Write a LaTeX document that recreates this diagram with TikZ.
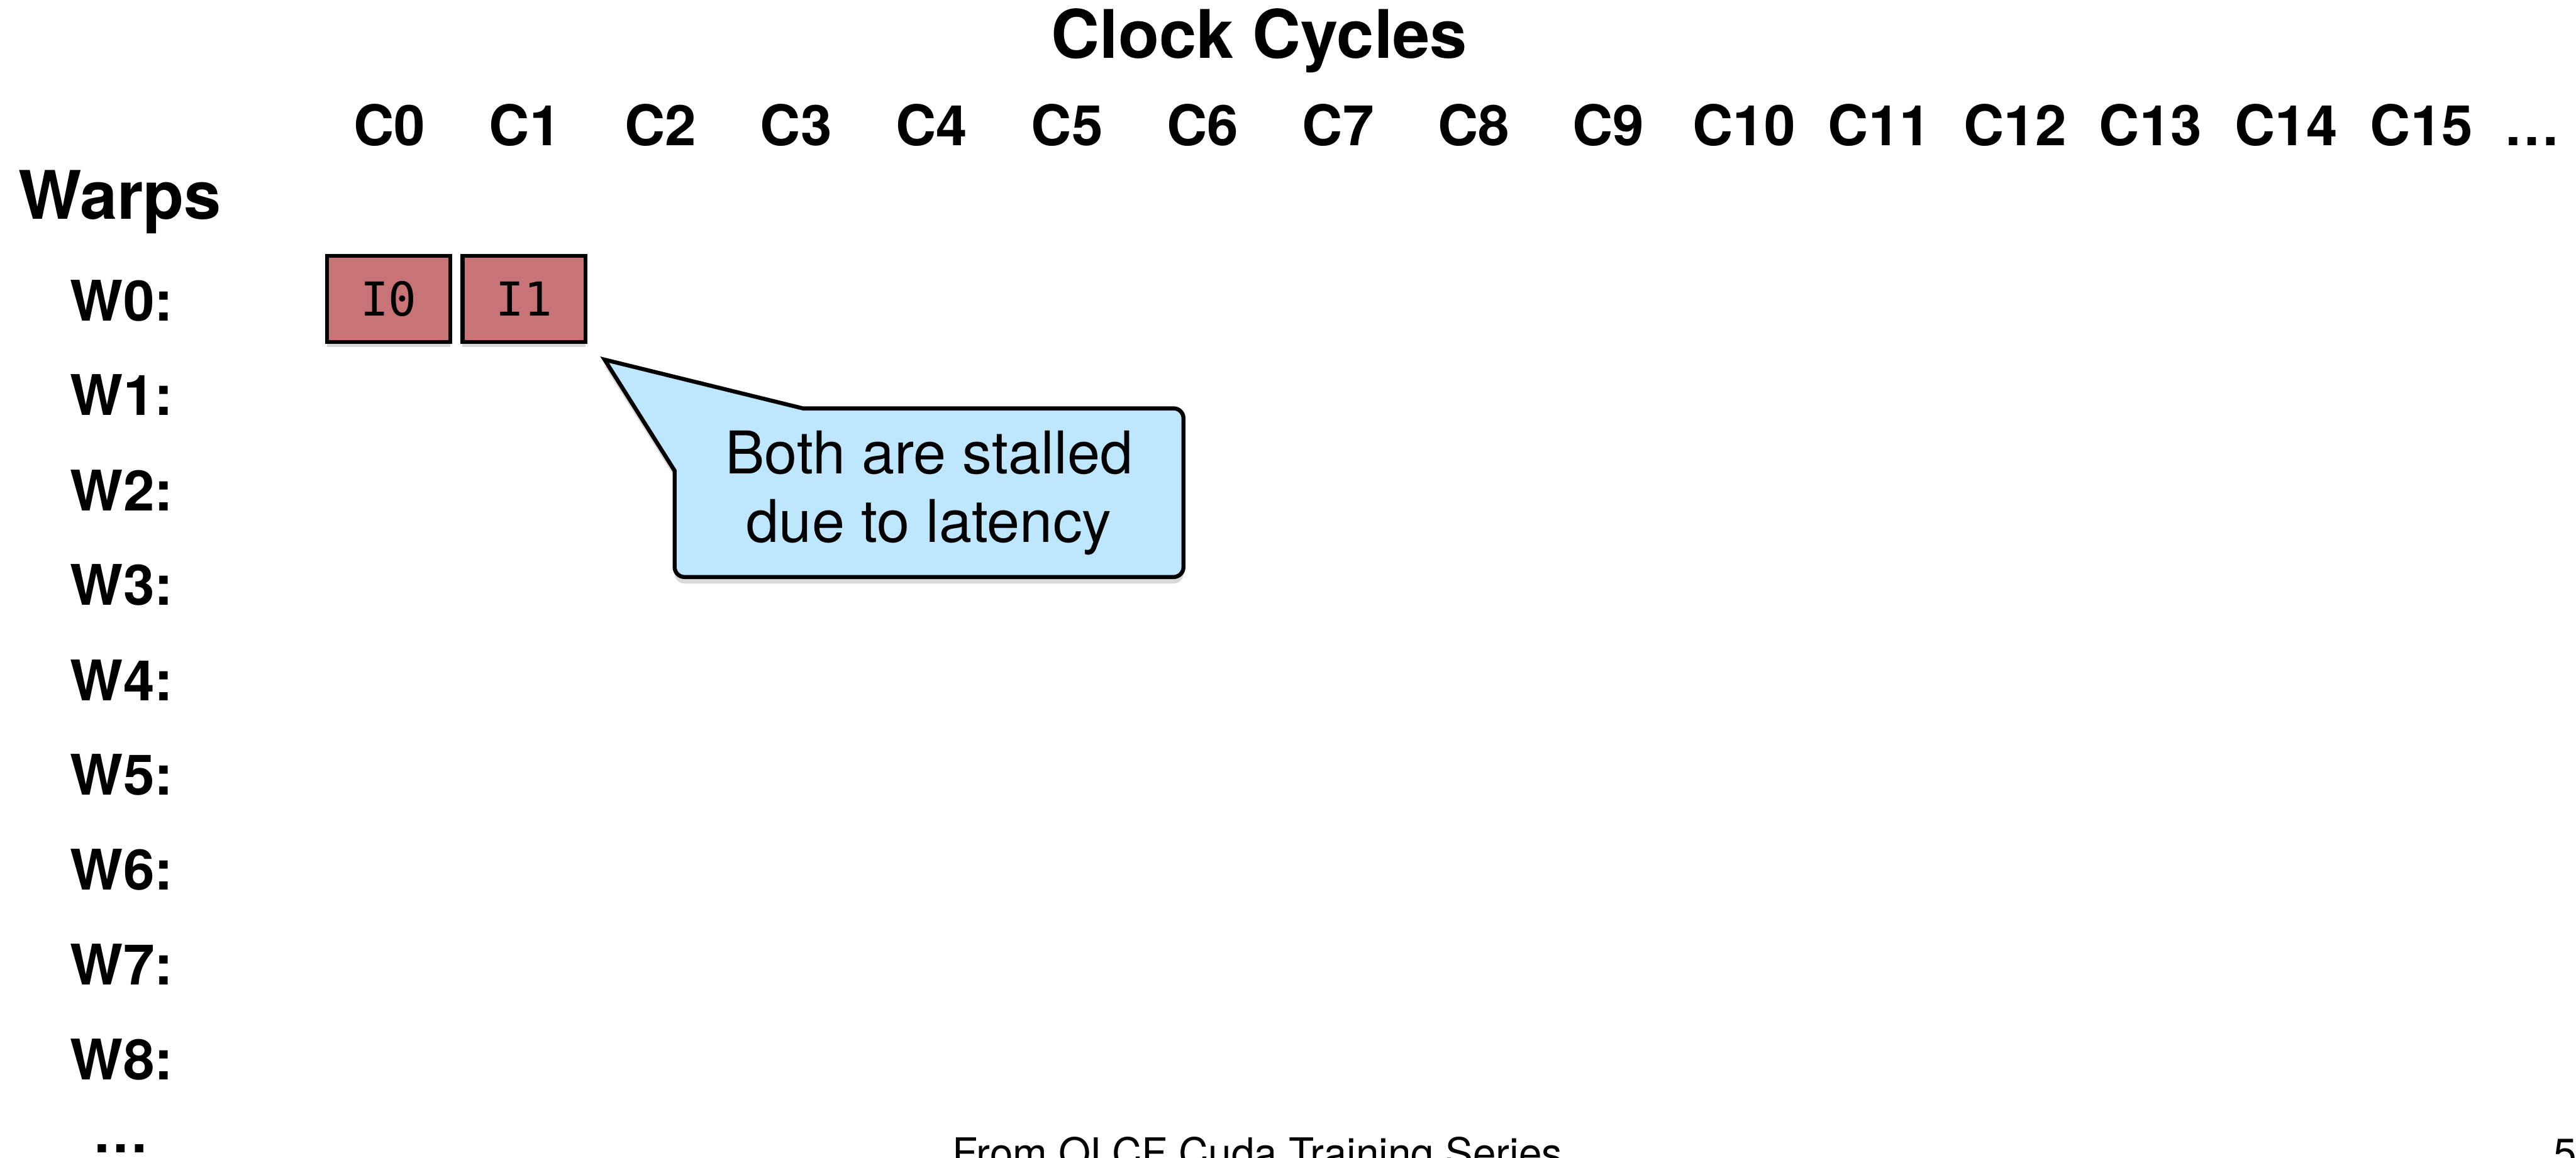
\documentclass[tikz,border=0pt]{standalone}
\usepackage{fontspec}
\setmainfont{TeX Gyre Heros}
\setmonofont{DejaVu Sans Mono}
\usepackage{tikz}
\usetikzlibrary{shadows, backgrounds}

\definecolor{stallred}{RGB}{200,115,117}
\definecolor{noteblue}{RGB}{190,230,252}

\begin{document}
\begin{tikzpicture}[
        heading/.style={anchor=base, inner sep=0pt, font=\fontsize{23.2}{28}\selectfont\bfseries},
        cyc/.style={anchor=base, inner sep=0pt, font=\fontsize{19.4}{23}\selectfont\bfseries},
        warp/.style={anchor=base west, inner sep=0pt, font=\fontsize{19.4}{23}\selectfont\bfseries},
        instr/.style={rectangle, draw=black, fill=stallred, line width=1.4pt, minimum width=1.5cm, minimum height=1.05cm, font=\fontsize{16.2}{19}\selectfont\ttfamily, drop shadow={shadow xshift=0pt, shadow yshift=-0.06cm, opacity=0.3}},
        note/.style={rectangle, minimum width=6.18cm, minimum height=2.04cm, align=center, font=\fontsize{20.4}{23.7}\selectfont},
        notebox/.style={draw=black, fill=noteblue, line width=1.4pt, line join=miter, drop shadow={shadow xshift=0pt, shadow yshift=-0.08cm, opacity=0.3}},
        footer/.style={anchor=base, inner sep=0pt, font=\fontsize{14.3}{17}\selectfont}
    ]
        \useasboundingbox (0,0) rectangle (31.36,14.10);

        % Header
        \node[heading] (title) at (15.33, 13.39) {Clock Cycles};
        \node[heading, anchor=base west] (warps) at (0.22, 11.43) {Warps};

        % Cycle columns
        \node[cyc] (c0) at (4.74, 12.33) {C0};
        \node[cyc] (c1) at (6.39, 12.33) {C1};
        \node[cyc] (c2) at (8.04, 12.33) {C2};
        \node[cyc] (c3) at (9.69, 12.33) {C3};
        \node[cyc] (c4) at (11.34, 12.33) {C4};
        \node[cyc] (c5) at (12.99, 12.33) {C5};
        \node[cyc] (c6) at (14.64, 12.33) {C6};
        \node[cyc] (c7) at (16.29, 12.33) {C7};
        \node[cyc] (c8) at (17.94, 12.33) {C8};
        \node[cyc] (c9) at (19.58, 12.33) {C9};
        \node[cyc] (c10) at (21.23, 12.33) {C10};
        \node[cyc] (c11) at (22.88, 12.33) {C11};
        \node[cyc] (c12) at (24.53, 12.33) {C12};
        \node[cyc] (c13) at (26.18, 12.33) {C13};
        \node[cyc] (c14) at (27.83, 12.33) {C14};
        \node[cyc] (c15) at (29.48, 12.33) {C15};
        \node[cyc] (cmore) at (30.82, 12.33) {…};

        % Warp rows
        \node[warp] (w0) at (0.85, 10.19) {W0:};
        \node[warp] (w1) at (0.85, 9.04) {W1:};
        \node[warp] (w2) at (0.85, 7.88) {W2:};
        \node[warp] (w3) at (0.85, 6.73) {W3:};
        \node[warp] (w4) at (0.85, 5.57) {W4:};
        \node[warp] (w5) at (0.85, 4.42) {W5:};
        \node[warp] (w6) at (0.85, 3.26) {W6:};
        \node[warp] (w7) at (0.85, 2.11) {W7:};
        \node[warp] (w8) at (0.85, 0.95) {W8:};
        \node[warp] (wmore) at (1.12, 0.06) {…};

        % Issued instructions of W0
        \node[instr] (i0) at (4.73, 10.46) {I0};
        \node[instr] (i1) at (6.38, 10.46) {I1};

        % Stall note
        \coordinate (tip) at (7.36, 9.72);
        \node[note] (note) at (11.31, 8.10) {Both are stalled\\due to latency};
        \begin{scope}[on background layer]
            \draw[notebox] ([xshift=1.56cm]note.north west) -- (tip) -- ([yshift=-0.76cm]note.north west)
                -- ([yshift=0.12cm]note.south west) arc[start angle=180, end angle=270, radius=0.12cm]
                -- ([xshift=-0.12cm]note.south east) arc[start angle=270, end angle=360, radius=0.12cm]
                -- ([yshift=-0.12cm]note.north east) arc[start angle=0, end angle=90, radius=0.12cm]
                -- cycle;
        \end{scope}

        % Slide footer
        \node[footer] (source) at (15.31, -0.12) {From OLCF Cuda Training Series};
        \node[footer, anchor=base west] (page) at (31.08, -0.12) {5};
    \end{tikzpicture}
\end{document}
